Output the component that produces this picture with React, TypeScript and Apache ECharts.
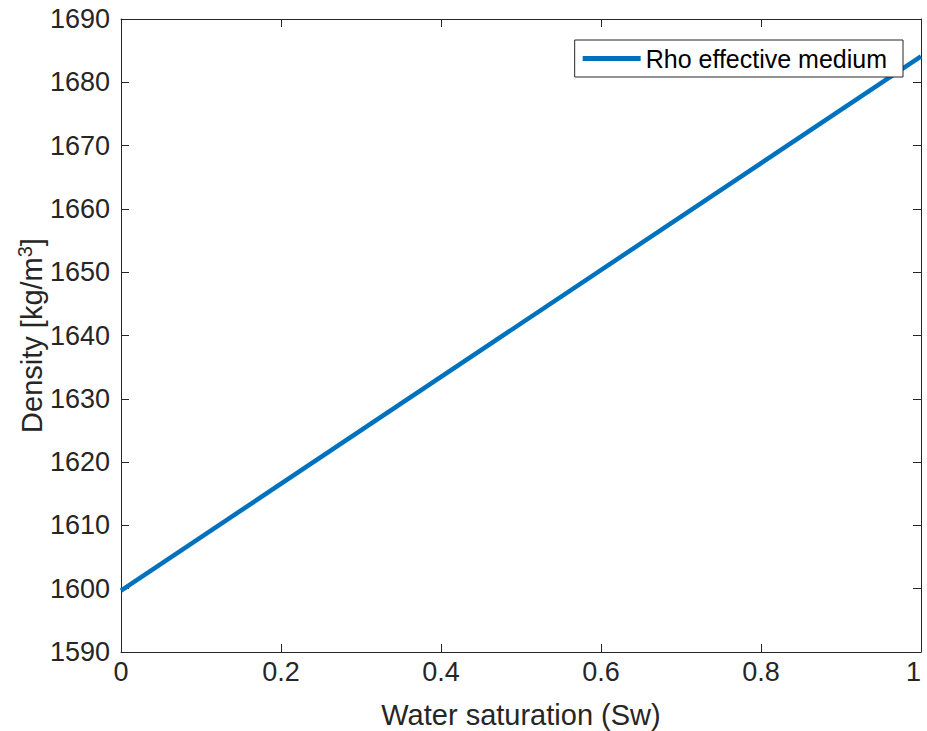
import React, { useEffect, useRef } from "react";
import * as echarts from "echarts";

const seriesName = "Rho effective medium";
const waterSaturation = [0, 1];
const density = [1599.7, 1684.1];
const xTicks = [0, 0.2, 0.4, 0.6, 0.8, 1];
const yTicks = [1590, 1600, 1610, 1620, 1630, 1640, 1650, 1660, 1670, 1680, 1690];

const FONT = "Liberation Sans, Arial, Helvetica, sans-serif";
const AX = "#262626";

export default function App() {
  const ref = useRef<HTMLDivElement>(null);
  useEffect(() => {
    const chart = echarts.init(ref.current!, null, { renderer: "svg" });
    const axisCommon = {
      axisLine: { show: true, onZero: false, lineStyle: { color: AX, width: 1 } },
      axisTick: { show: true, inside: true, length: 8, lineStyle: { color: AX, width: 1 } },
      splitLine: { show: false },
    };
    chart.setOption({
      animation: false,
      backgroundColor: "#ffffff",
      textStyle: { fontFamily: FONT },
      grid: { left: 121, right: 6, top: 19, bottom: 79, containLabel: false, outerBoundsMode: "none" },
      legend: {
        top: 40,
        right: 24,
        data: [{ name: seriesName, icon: "rect" }],
        borderColor: "#262626",
        borderWidth: 1,
        borderRadius: 0,
        padding: [6, 16, 6, 8],
        itemWidth: 58,
        itemHeight: 5,
        itemGap: 6,
        backgroundColor: "#ffffff",
        textStyle: { fontFamily: FONT, fontSize: 25, color: "#000000", padding: [0, 0, 0, 0] },
      },
      xAxis: [
        {
          type: "value",
          min: 0,
          max: 1,
          interval: 0.2,
          position: "bottom",
          ...axisCommon,
          axisLabel: {
            color: AX,
            fontSize: 27,
            fontFamily: FONT,
            margin: 6,
            alignMaxLabel: "right",
            formatter: (v: number) => (xTicks.includes(Math.round(v * 10) / 10) ? String(Math.round(v * 10) / 10) : ""),
          },
          name: "Water saturation (Sw)",
          nameLocation: "middle",
          nameGap: 48,
          nameMoveOverlap: false,
          nameTextStyle: { color: AX, fontSize: 29, fontFamily: FONT },
        },
        {
          type: "value",
          min: 0,
          max: 1,
          interval: 0.2,
          position: "top",
          ...axisCommon,
          axisLabel: { show: false },
        },
      ],
      yAxis: [
        {
          type: "value",
          min: 1590,
          max: 1690,
          interval: 10,
          position: "left",
          ...axisCommon,
          axisLabel: {
            color: AX,
            fontSize: 27,
            fontFamily: FONT,
            margin: 11,
            formatter: (v: number) => (yTicks.includes(Math.round(v)) ? String(Math.round(v)) : ""),
          },
          name: "Density [kg/m{sup|3}]",
          nameLocation: "middle",
          nameRotate: 90,
          nameGap: 72,
          nameMoveOverlap: false,
          nameTextStyle: {
            color: AX,
            fontSize: 29,
            fontFamily: FONT,
            rich: {
              sup: { fontSize: 20, color: AX, fontFamily: FONT, verticalAlign: "top", padding: [0, 0, 14, 0] },
            },
          },
        },
        {
          type: "value",
          min: 1590,
          max: 1690,
          interval: 10,
          position: "right",
          ...axisCommon,
          axisLabel: { show: false },
        },
      ],
      series: [
        {
          name: seriesName,
          type: "line",
          xAxisIndex: 0,
          yAxisIndex: 0,
          data: waterSaturation.map((x, i) => [x, density[i]]),
          showSymbol: false,
          symbol: "none",
          lineStyle: { color: "#0072BD", width: 4.5 },
          itemStyle: { color: "#0072BD" },
        },
      ],
    });
    return () => chart.dispose();
  }, []);
  return (
    <div
      ref={ref}
      style={{ position: "fixed", left: 0, top: 0, width: 927, height: 731, background: "#fff" }}
    />
  );
}
